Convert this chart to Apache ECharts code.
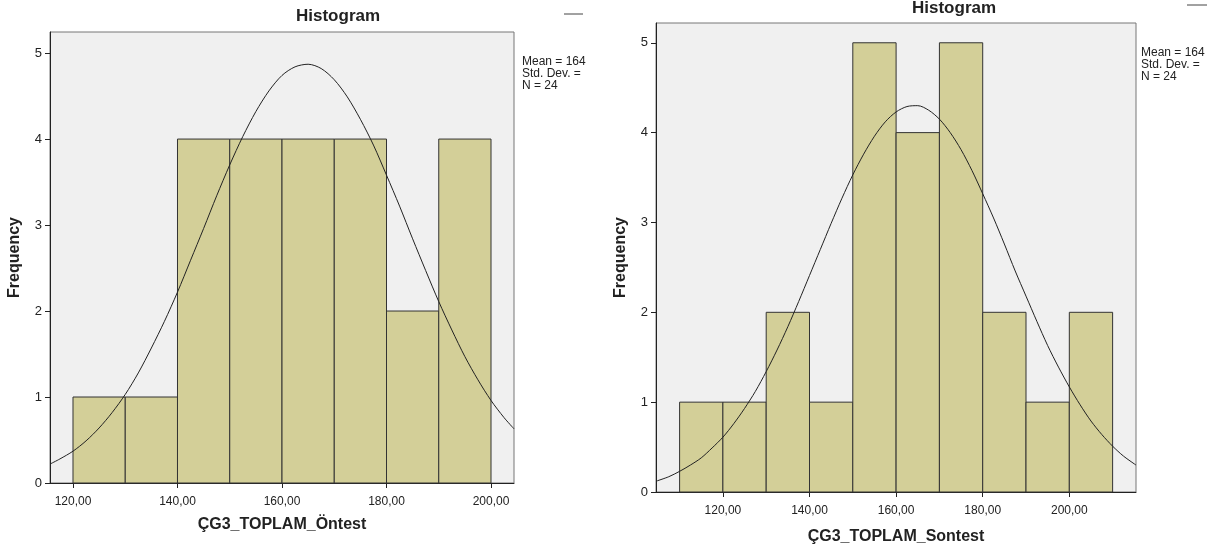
<!DOCTYPE html>
<html>
<head>
<meta charset="utf-8">
<script src="https://cdn.jsdelivr.net/npm/echarts@6/dist/echarts.min.js"></script>
<style>
  html, body { margin: 0; padding: 0; background: #fff; }
  #main { width: 1216px; height: 547px; }
</style>
</head>
<body>
<div id="main"></div>
<script>
// histogram bins (edges) and counts
const leftEdges = [120, 130, 140, 150, 160, 170, 180, 190, 200];
const leftCounts = [1, 1, 4, 4, 4, 4, 2, 4];
const rightEdges = [110, 120, 130, 140, 150, 160, 170, 180, 190, 200, 210];
const rightCounts = [1, 1, 2, 1, 5, 4, 5, 2, 1, 2];

// normal curve
const leftCurveX = [115.6, 117.5, 120, 122.5, 125, 127.5, 130, 132.5, 135, 137.5, 140, 142.5, 145, 147.5, 150, 152.5, 155, 157.5, 160, 162.5,
  165, 167.5, 170, 172.5, 175, 177.5, 180, 182.5, 185, 187.5, 190, 192.5, 195, 197.5, 200, 202.5, 204.4];
const leftCurveY = [0.22, 0.28, 0.37, 0.49, 0.64, 0.82, 1.03, 1.28, 1.57, 1.88, 2.22, 2.59, 2.96, 3.34, 3.70, 4.03, 4.32, 4.56, 4.74, 4.84,
  4.87, 4.82, 4.69, 4.49, 4.23, 3.93, 3.58, 3.22, 2.84, 2.47, 2.11, 1.78, 1.47, 1.20, 0.96, 0.76, 0.63];
const rightCurveX = [104.55, 107.5, 110, 112.5, 115, 117.5, 120, 122.5, 125, 127.5, 130, 132.5, 135, 137.5, 140, 142.5, 145, 147.5, 150, 152.5,
  155, 157.5, 160, 162.5, 165, 167.5, 170, 172.5, 175, 177.5, 180, 182.5, 185, 187.5, 190, 192.5, 195, 197.5, 200, 202.5, 205, 207.5, 210, 212.5, 215.4];
const rightCurveY = [0.12, 0.17, 0.23, 0.30, 0.38, 0.49, 0.61, 0.76, 0.93, 1.12, 1.34, 1.58, 1.84, 2.12, 2.41, 2.70, 2.99, 3.27, 3.53, 3.76,
  3.96, 4.12, 4.23, 4.29, 4.30, 4.25, 4.15, 4.00, 3.81, 3.58, 3.32, 3.05, 2.76, 2.46, 2.18, 1.90, 1.63, 1.39, 1.17, 0.97, 0.79, 0.64, 0.51, 0.40, 0.30];

const xTicks = [120, 140, 160, 180, 200];
const yTicks = [0, 1, 2, 3, 4, 5];
const statLines = ['Mean = 164', 'Std. Dev. =', 'N = 24'];

const FONT = '"Liberation Sans", Arial, sans-serif';

function binData(edges, counts) {
  return counts.map((c, i) => [edges[i], edges[i + 1], c]);
}
function pairs(xs, ys) {
  return xs.map((x, i) => [x, ys[i]]);
}

function renderBar(params, api) {
  const p0 = api.coord([api.value(0), 0]);
  const p1 = api.coord([api.value(1), api.value(2)]);
  return {
    type: 'rect',
    shape: { x: p0[0], y: p1[1], width: p1[0] - p0[0], height: p0[1] - p1[1] },
    style: { fill: '#d3cf98', stroke: '#333', lineWidth: 1 }
  };
}

function xAxisFor(idx, min, max, name, gap) {
  return {
    type: 'value', gridIndex: idx, min: min, max: max,
    name: name, nameLocation: 'middle', nameGap: gap,
    nameTextStyle: { fontFamily: FONT, fontSize: 16, fontWeight: 'bold', color: '#222' },
    axisLine: { show: true, lineStyle: { color: '#222', width: 1 } },
    axisTick: { show: true, length: 5, customValues: xTicks, lineStyle: { color: '#222' } },
    axisLabel: {
      customValues: xTicks, margin: 13, fontFamily: FONT, fontSize: 12, color: '#222',
      formatter: v => v.toFixed(2).replace('.', ',')
    },
    splitLine: { show: false }
  };
}

function yAxisFor(idx, max) {
  return {
    type: 'value', gridIndex: idx, min: 0, max: max,
    name: 'Frequency', nameLocation: 'middle', nameGap: 27,
    nameTextStyle: { fontFamily: FONT, fontSize: 16, fontWeight: 'bold', color: '#222' },
    axisLine: { show: true, lineStyle: { color: '#222', width: 1 } },
    axisTick: { show: true, length: 5, customValues: yTicks, lineStyle: { color: '#222' } },
    axisLabel: { customValues: yTicks, margin: 8, fontFamily: FONT, fontSize: 13, color: '#222' },
    splitLine: { show: false }
  };
}

function statText(x, y) {
  return {
    type: 'text', left: x, top: y,
    style: { text: statLines.join('\n'), fontFamily: FONT, fontSize: 12, lineHeight: 12, fill: '#222' }
  };
}

const chart = echarts.init(document.getElementById('main'));
chart.setOption({
  backgroundColor: '#fff',
  animation: false,
  grid: [
    { left: 50, top: 32, right: 702, bottom: 64, outerBoundsMode: 'none', show: true, backgroundColor: '#f0f0f0', borderColor: '#777', borderWidth: 1 },
    { left: 656, top: 23, right: 80, bottom: 55, outerBoundsMode: 'none', show: true, backgroundColor: '#f0f0f0', borderColor: '#777', borderWidth: 1 }
  ],
  xAxis: [
    xAxisFor(0, 115.6, 204.4, 'ÇG3_TOPLAM_Öntest', 34),
    xAxisFor(1, 104.55, 215.4, 'ÇG3_TOPLAM_Sontest', 37)
  ],
  yAxis: [yAxisFor(0, 5.245), yAxisFor(1, 5.22)],
  series: [
    { type: 'custom', xAxisIndex: 0, yAxisIndex: 0, renderItem: renderBar, encode: { x: [0, 1], y: 2 }, data: binData(leftEdges, leftCounts) },
    { type: 'custom', xAxisIndex: 1, yAxisIndex: 1, renderItem: renderBar, encode: { x: [0, 1], y: 2 }, data: binData(rightEdges, rightCounts) },
    { type: 'line', xAxisIndex: 0, yAxisIndex: 0, smooth: 0.3, symbol: 'none', z: 5,
      lineStyle: { color: '#222', width: 1 }, data: pairs(leftCurveX, leftCurveY) },
    { type: 'line', xAxisIndex: 1, yAxisIndex: 1, smooth: 0.3, symbol: 'none', z: 5,
      lineStyle: { color: '#222', width: 1 }, data: pairs(rightCurveX, rightCurveY) }
  ],
  graphic: [
    { type: 'text', left: 296, top: 8, style: { text: 'Histogram', fontFamily: FONT, fontSize: 17, fontWeight: 'bold', fill: '#222' } },
    { type: 'text', left: 912, top: 0, style: { text: 'Histogram', fontFamily: FONT, fontSize: 17, fontWeight: 'bold', fill: '#222' } },
    statText(522, 56),
    statText(1141, 47),
    { type: 'line', shape: { x1: 564, y1: 14, x2: 583, y2: 14 }, style: { stroke: '#444', lineWidth: 1 } },
    { type: 'line', shape: { x1: 1187, y1: 5, x2: 1207, y2: 5 }, style: { stroke: '#444', lineWidth: 1 } }
  ]
});
</script>
</body>
</html>
